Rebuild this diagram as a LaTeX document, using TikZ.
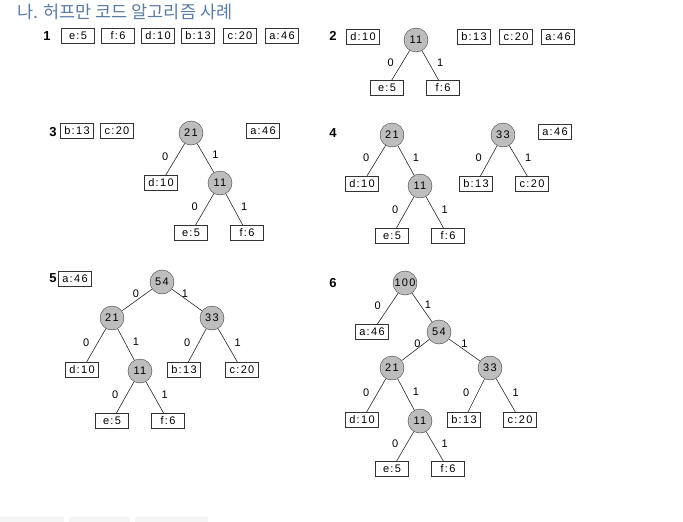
\documentclass[tikz,border=0pt]{standalone}
\usepackage{fontspec}
\setsansfont{Liberation Sans}
\newfontfamily\krfont{Noto Sans CJK KR}
\newfontfamily\boxfont{Liberation Sans}[LetterSpace=12]
\usepackage{tikz}
\usetikzlibrary{positioning}
\definecolor{titleblue}{HTML}{5A7CA3}
\definecolor{nodegray}{HTML}{BDBDBD}
\tikzset{
  leaf/.style={draw=black!80, thick, fill=white, minimum width=33pt, minimum height=15pt,
    inner sep=0pt, font=\boxfont\fontsize{11}{11}\selectfont},
  inner/.style={circle, draw=black!75, fill=nodegray, minimum size=24pt, inner sep=0pt,
    font=\boxfont\fontsize{11}{11}\selectfont},
  bit/.style={font=\sffamily\fontsize{11}{11}\selectfont, inner sep=0pt},
  lft/.style={bit, midway, xshift=-10pt, yshift=3pt},
  rgt/.style={bit, midway, xshift=10pt, yshift=3pt},
  top/.style={bit, midway, yshift=6pt},
  step num/.style={font=\sffamily\bfseries\fontsize{13}{13}\selectfont, inner sep=0pt},
  edge/.style={draw=black!85, semithick}
}
\begin{document}
\begin{tikzpicture}[x=1pt, y=-1pt]
  \useasboundingbox (0,0) rectangle (683,522);
  % title
  \node[font=\krfont\fontsize{17.5}{17.5}\selectfont, text=titleblue, anchor=base west, inner sep=0pt]
    (title) at (17,19) {나. 허프만 코드 알고리즘 사례};
  % faint strip at the bottom
  \fill[black!4] (0,517) rectangle (64,522);
  \fill[black!4] (69,517) rectangle (130,522);
  \fill[black!4] (135,517) rectangle (208,522);

  % ---- step 1 : sorted leaves
  \node[step num] (s1) at (47,36) {1};
  \foreach \nm/\tx/\xx in {e5/e:5/78, f6/f:6/118, d10/d:10/158, b13/b:13/198, c20/c:20/240, a46/a:46/282}
    \node[leaf] (p1\nm) at (\xx,36) {\tx};

  % ---- step 2
  \node[step num] (s2) at (333,36) {2};
  \node[leaf] (p2d10) at (363,37) {d:10};
  \node[inner] (p2n11) at (416,40) {11};
  \node[leaf] (p2b13) at (474,37) {b:13};
  \node[leaf] (p2c20) at (516,37) {c:20};
  \node[leaf] (p2a46) at (558,37) {a:46};
  \node[leaf] (p2e5) at (387,88) {e:5};
  \node[leaf] (p2f6) at (443,88) {f:6};
  \draw[edge] (p2n11) -- (p2e5) node[lft] (p2l0) {0};
  \draw[edge] (p2n11) -- (p2f6) node[rgt] (p2l1) {1};

  % ---- step 3
  \node[step num] (s3) at (53,132) {3};
  \node[leaf] (p3b13) at (77,131) {b:13};
  \node[leaf] (p3c20) at (117,131) {c:20};
  \node[inner] (p3n21) at (191,133) {21};
  \node[leaf] (p3a46) at (263,131) {a:46};
  \node[leaf] (p3d10) at (161,183) {d:10};
  \node[inner] (p3n11) at (220,183) {11};
  \node[leaf] (p3e5) at (191,233) {e:5};
  \node[leaf] (p3f6) at (247,233) {f:6};
  \draw[edge] (p3n21) -- (p3d10) node[lft] (p3la) {0};
  \draw[edge] (p3n21) -- (p3n11) node[rgt] (p3lb) {1};
  \draw[edge] (p3n11) -- (p3e5) node[lft] (p3lc) {0};
  \draw[edge] (p3n11) -- (p3f6) node[rgt] (p3ld) {1};

  % ---- step 4
  \node[step num] (s4) at (333,133) {4};
  \node[inner] (p4n21) at (392,135) {21};
  \node[leaf] (p4d10) at (362,184) {d:10};
  \node[inner] (p4n11) at (420,186) {11};
  \node[leaf] (p4e5) at (392,236) {e:5};
  \node[leaf] (p4f6) at (448,236) {f:6};
  \node[inner] (p4n33) at (503,135) {33};
  \node[leaf] (p4b13) at (476,184) {b:13};
  \node[leaf] (p4c20) at (532,184) {c:20};
  \node[leaf] (p4a46) at (555,132) {a:46};
  \draw[edge] (p4n21) -- (p4d10) node[lft] (p4la) {0};
  \draw[edge] (p4n21) -- (p4n11) node[rgt] (p4lb) {1};
  \draw[edge] (p4n11) -- (p4e5) node[lft] (p4lc) {0};
  \draw[edge] (p4n11) -- (p4f6) node[rgt] (p4ld) {1};
  \draw[edge] (p4n33) -- (p4b13) node[lft] (p4le) {0};
  \draw[edge] (p4n33) -- (p4c20) node[rgt] (p4lf) {1};

  % ---- step 5
  \node[step num] (s5) at (53,278) {5};
  \node[leaf] (p5a46) at (75,279) {a:46};
  \node[inner] (p5n54) at (162,282) {54};
  \node[inner] (p5n21) at (112,318) {21};
  \node[inner] (p5n33) at (212,318) {33};
  \node[leaf] (p5d10) at (82,370) {d:10};
  \node[inner] (p5n11) at (140,371) {11};
  \node[leaf] (p5b13) at (184,370) {b:13};
  \node[leaf] (p5c20) at (242,370) {c:20};
  \node[leaf] (p5e5) at (112,421) {e:5};
  \node[leaf] (p5f6) at (168,421) {f:6};
  \draw[edge] (p5n54) -- (p5n21) node[top, xshift=-1pt] (p5la) {0};
  \draw[edge] (p5n54) -- (p5n33) node[top, xshift=-2pt] (p5lb) {1};
  \draw[edge] (p5n21) -- (p5d10) node[lft] (p5lc) {0};
  \draw[edge] (p5n21) -- (p5n11) node[rgt] (p5ld) {1};
  \draw[edge] (p5n33) -- (p5b13) node[lft] (p5le) {0};
  \draw[edge] (p5n33) -- (p5c20) node[rgt] (p5lf) {1};
  \draw[edge] (p5n11) -- (p5e5) node[lft] (p5lg) {0};
  \draw[edge] (p5n11) -- (p5f6) node[rgt] (p5lh) {1};

  % ---- step 6 : final tree
  \node[step num] (s6) at (333,283) {6};
  \node[inner] (p6n100) at (405,283) {100};
  \node[leaf] (p6a46) at (372,332) {a:46};
  \node[inner] (p6n54) at (439,332) {54};
  \node[inner] (p6n21) at (392,368) {21};
  \node[inner] (p6n33) at (490,368) {33};
  \node[leaf] (p6d10) at (362,420) {d:10};
  \node[inner] (p6n11) at (420,421) {11};
  \node[leaf] (p6b13) at (464,420) {b:13};
  \node[leaf] (p6c20) at (520,420) {c:20};
  \node[leaf] (p6e5) at (392,469) {e:5};
  \node[leaf] (p6f6) at (448,469) {f:6};
  \draw[edge] (p6n100) -- (p6a46) node[lft] (p6la) {0};
  \draw[edge] (p6n100) -- (p6n54) node[rgt, xshift=-4pt] (p6lb) {1};
  \draw[edge] (p6n54) -- (p6n21) node[top, xshift=2pt] (p6lc) {0};
  \draw[edge] (p6n54) -- (p6n33) node[top] (p6ld) {1};
  \draw[edge] (p6n21) -- (p6d10) node[lft] (p6le) {0};
  \draw[edge] (p6n21) -- (p6n11) node[rgt] (p6lf) {1};
  \draw[edge] (p6n33) -- (p6b13) node[lft] (p6lg) {0};
  \draw[edge] (p6n33) -- (p6c20) node[rgt] (p6lh) {1};
  \draw[edge] (p6n11) -- (p6e5) node[lft] (p6li) {0};
  \draw[edge] (p6n11) -- (p6f6) node[rgt] (p6lj) {1};
\end{tikzpicture}
\end{document}
